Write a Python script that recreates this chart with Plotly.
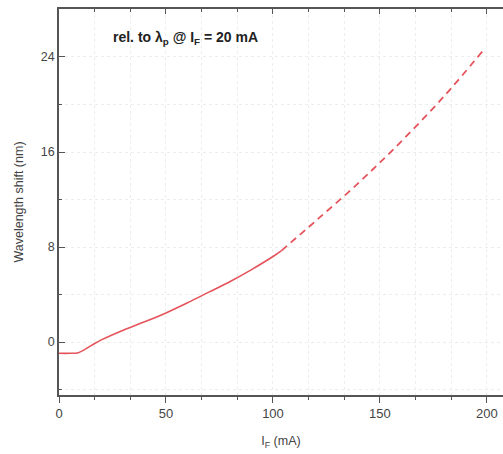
import plotly.graph_objects as go

# measured current (mA) and wavelength shift (nm)
x_solid = [0, 5, 9, 15, 20, 30, 40, 50, 60, 70, 80, 90, 100, 104]
y_solid = [-0.95, -0.95, -0.9, -0.3, 0.2, 1.0, 1.7, 2.45, 3.3, 4.2, 5.1, 6.1, 7.2, 7.7]
# extrapolated part
x_dash = [104, 120, 140, 160, 180, 198]
y_dash = [7.7, 10.2, 13.4, 16.9, 20.7, 24.5]

x_ticks = [0, 50, 100, 150, 200]
y_ticks = [0, 8, 16, 24]

red = "#e5535b"
fig = go.Figure()
fig.add_trace(go.Scatter(x=x_solid, y=y_solid, mode="lines",
                         line=dict(color=red, width=1.6, shape="spline"), showlegend=False))
fig.add_trace(go.Scatter(x=x_dash, y=y_dash, mode="lines",
                         line=dict(color=red, width=1.8, dash="7px,5px", shape="spline"), showlegend=False))
# invisible trace for top axis
fig.add_trace(go.Scatter(x=[0], y=[0], xaxis="x2", mode="markers",
                         marker=dict(opacity=0), showlegend=False, hoverinfo="skip"))

grid = "#ededed"
fig.update_layout(
    width=503, height=454,
    margin=dict(l=59, r=0, t=9, b=59, autoexpand=False),
    plot_bgcolor="white", paper_bgcolor="white",
    font=dict(family="Liberation Sans, Arial, sans-serif", size=12, color="#444"),
    xaxis=dict(range=[0, 207.5], tickvals=x_ticks, ticks="outside", ticklen=6, automargin=False,
               tickcolor="#555", linecolor="#555", linewidth=1.5, showline=True,
               showgrid=True, gridcolor=grid, griddash="dot", zeroline=False,
               minor=dict(dtick=50/3, tick0=0, ticks="outside", ticklen=3, tickcolor="#555",
                          showgrid=True, gridcolor=grid, griddash="dot"),
               title=dict(text="I<sub>F</sub> (mA)", font=dict(size=12.5, color="#444"), standoff=16),
               tickfont=dict(size=13, color="#444")),
    xaxis2=dict(overlaying="x", matches="x", side="top", anchor="y", showticklabels=False,
                tickvals=x_ticks, ticks="inside", ticklen=5, tickcolor="#555", automargin=False,
                showline=True, linecolor="#555", linewidth=1.5, showgrid=False, zeroline=False,
                minor=dict(dtick=50/3, tick0=0, ticks="inside", ticklen=3, tickcolor="#555")),
    yaxis=dict(range=[-4.46, 28.04], tickvals=y_ticks, ticks="inside", ticklen=6, automargin=False,
               tickcolor="#555", linecolor="#555", linewidth=1.5, showline=True,
               showgrid=True, gridcolor=grid, griddash="dot", zeroline=False,
               minor=dict(dtick=4, tick0=0, ticks="inside", ticklen=3, tickcolor="#555",
                          showgrid=True, gridcolor=grid, griddash="dot"),
               title=dict(text="Wavelength shift (nm)", font=dict(size=12.5, color="#444"), standoff=14),
               tickfont=dict(size=12.5, color="#444")),
    annotations=[dict(text="<b>rel. to λ<sub>p</sub> @ I<sub>F</sub> = 20 mA</b>",
                      xref="paper", yref="paper", x=0.118, y=0.925, xanchor="left", yanchor="middle",
                      showarrow=False, font=dict(size=14, color="#222"))],
)
fig.write_html("out.html", config={"displayModeBar": False},
               post_script="document.body.style.margin='0';document.body.style.overflow='hidden';")
